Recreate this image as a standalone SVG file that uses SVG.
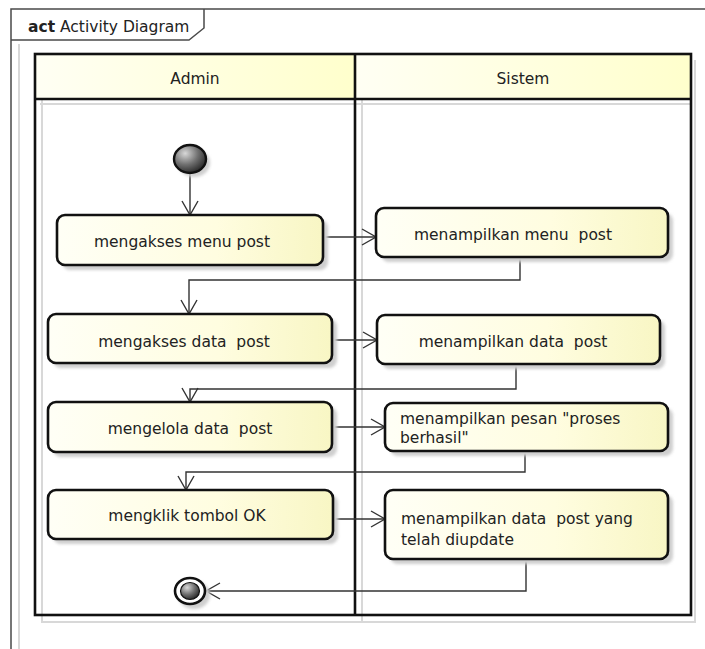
<svg xmlns="http://www.w3.org/2000/svg" width="705" height="649" viewBox="0 0 705 649">
  <defs>
    <linearGradient id="actFill" x1="0" y1="0" x2="1" y2="0">
      <stop offset="0" stop-color="#fffff6"/>
      <stop offset="0.6" stop-color="#fffde0"/>
      <stop offset="1" stop-color="#f8f6c4"/>
    </linearGradient>
    <linearGradient id="laneFill" x1="0" y1="0" x2="1" y2="0">
      <stop offset="0" stop-color="#fffff4"/>
      <stop offset="1" stop-color="#ffffcc"/>
    </linearGradient>
    <radialGradient id="dotFill" cx="0.35" cy="0.3" r="0.8">
      <stop offset="0" stop-color="#d8d8d8"/>
      <stop offset="0.5" stop-color="#707070"/>
      <stop offset="1" stop-color="#1a1a1a"/>
    </radialGradient>
    <filter id="soft" x="-20%" y="-20%" width="140%" height="140%">
      <feGaussianBlur stdDeviation="1.8"/>
    </filter>
    <marker id="open" viewBox="0 0 16 18" refX="15" refY="9" markerWidth="16" markerHeight="18" markerUnits="userSpaceOnUse" orient="auto">
      <path d="M1 1 L15 9 L1 17" fill="none" stroke="#333" stroke-width="1.4"/>
    </marker>
  </defs>
  <style>
    .frame { fill: none; stroke: #4a4a4a; stroke-width: 1.5; }
    .ghost { fill: none; stroke: #d8d8d8; stroke-width: 2; }
    .lane { fill: none; stroke: #111; stroke-width: 2.6; }
    .act { fill: url(#actFill); stroke: #111; stroke-width: 2.6; }
    .shadow { fill: #cfcfcf; filter: url(#soft); }
    .flow { fill: none; stroke: #333; stroke-width: 1.4; }
    .lbl { font-family: "DejaVu Sans", "Liberation Sans", sans-serif; font-size: 15.5px; fill: #222; white-space: pre; }
    .mid { text-anchor: middle; }
  </style>

  <rect width="705" height="649" fill="#ffffff"/>

  <!-- diagram frame with name tab -->
  <g id="frame">
    <path class="ghost" d="M19 44 V649" stroke-width="1.5"/>
    <path class="frame" d="M11 649 V9 H705"/>
    <path class="frame" d="M11 40 H189 L204 28 V9"/>
    <text class="lbl" x="28" y="32"><tspan font-weight="bold">act</tspan> Activity Diagram</text>
  </g>

  <!-- partitions -->
  <g id="partitions">
    <path class="ghost" d="M42 60 V622 H695 V60 M362 60 V622 M40 104 H691"/>
    <rect x="35" y="54" width="320" height="45" fill="url(#laneFill)"/>
    <rect x="355" y="54" width="336" height="45" fill="url(#laneFill)"/>
    <rect class="lane" x="35" y="54" width="656" height="561"/>
    <path class="lane" d="M35 99 H691 M355 54 V615"/>
    <text class="lbl mid" x="195" y="84">Admin</text>
    <text class="lbl mid" x="523" y="84">Sistem</text>
  </g>

  <!-- control flows -->
  <g id="flows">
    <path class="flow" d="M190 173 V215" marker-end="url(#open)"/>
    <path class="flow" d="M323 237 H376" marker-end="url(#open)"/>
    <path class="flow" d="M520 257 V280 H189 V314" marker-end="url(#open)"/>
    <path class="flow" d="M332 340 H377" marker-end="url(#open)"/>
    <path class="flow" d="M516 364 V389 H190 V402" marker-end="url(#open)"/>
    <path class="flow" d="M332 427 H385" marker-end="url(#open)"/>
    <path class="flow" d="M525 451 V472 H186 V490" marker-end="url(#open)"/>
    <path class="flow" d="M333 519 H385" marker-end="url(#open)"/>
    <path class="flow" d="M526 559 V591 H206" marker-end="url(#open)"/>
  </g>

  <g id="start">
    <ellipse class="shadow" cx="194" cy="163" rx="16" ry="14"/>
    <ellipse cx="190" cy="159" rx="16" ry="14" fill="url(#dotFill)" stroke="#111" stroke-width="2.4"/>
  </g>

  <g id="mengakses-menu-post">
    <rect class="shadow" x="62" y="220" width="266" height="50" rx="8"/>
    <rect class="act" x="57" y="215" width="266" height="50" rx="8"/>
    <text class="lbl mid" x="182" y="247">mengakses menu post</text>
  </g>

  <g id="menampilkan-menu-post">
    <rect class="shadow" x="381" y="213" width="292" height="49" rx="8"/>
    <rect class="act" x="376" y="208" width="292" height="49" rx="8"/>
    <text class="lbl mid" x="513" y="240">menampilkan menu  post</text>
  </g>

  <g id="mengakses-data-post">
    <rect class="shadow" x="53" y="319" width="284" height="49" rx="8"/>
    <rect class="act" x="48" y="314" width="284" height="49" rx="8"/>
    <text class="lbl mid" x="184" y="347">mengakses data  post</text>
  </g>

  <g id="menampilkan-data-post">
    <rect class="shadow" x="382" y="320" width="283" height="49" rx="8"/>
    <rect class="act" x="377" y="315" width="283" height="49" rx="8"/>
    <text class="lbl mid" x="513" y="347">menampilkan data  post</text>
  </g>

  <g id="mengelola-data-post">
    <rect class="shadow" x="53" y="407" width="284" height="50" rx="8"/>
    <rect class="act" x="48" y="402" width="284" height="50" rx="8"/>
    <text class="lbl mid" x="190" y="434">mengelola data  post</text>
  </g>

  <g id="menampilkan-pesan">
    <rect class="shadow" x="390" y="408" width="283" height="48" rx="8"/>
    <rect class="act" x="385" y="403" width="283" height="48" rx="8"/>
    <text class="lbl" x="400" y="424">menampilkan pesan "proses</text>
    <text class="lbl" x="400" y="443">berhasil"</text>
  </g>

  <g id="mengklik-tombol-ok">
    <rect class="shadow" x="53" y="495" width="285" height="49" rx="8"/>
    <rect class="act" x="48" y="490" width="285" height="49" rx="8"/>
    <text class="lbl mid" x="187" y="521">mengklik tombol OK</text>
  </g>

  <g id="menampilkan-data-diupdate">
    <rect class="shadow" x="390" y="495" width="283" height="69" rx="8"/>
    <rect class="act" x="385" y="490" width="283" height="69" rx="8"/>
    <text class="lbl" x="401" y="524">menampilkan data  post yang</text>
    <text class="lbl" x="401" y="545">telah diupdate</text>
  </g>

  <g id="end">
    <ellipse class="shadow" cx="194" cy="595" rx="16" ry="14"/>
    <ellipse cx="190" cy="591" rx="15" ry="13" fill="#ffffff" stroke="#111" stroke-width="2.6"/>
    <ellipse cx="190" cy="591" rx="9.5" ry="8.5" fill="url(#dotFill)" stroke="#111" stroke-width="1.2"/>
  </g>
</svg>
